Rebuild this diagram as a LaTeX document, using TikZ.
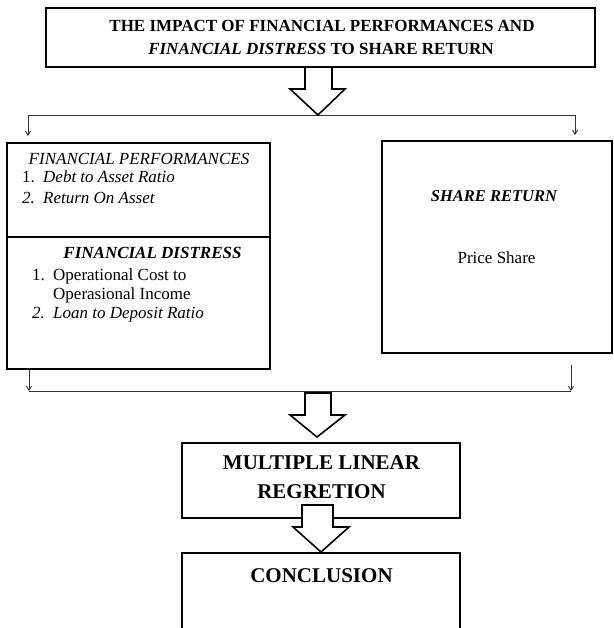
\documentclass[tikz,border=0pt]{standalone}
\usepackage{fontspec}
\setmainfont{Liberation Serif}
\usetikzlibrary{arrows.meta}
\begin{document}
\begin{tikzpicture}[x=1pt,y=-1pt,
  box/.style={draw=black, line width=2pt, inner sep=0pt, outer sep=0pt},
  wire/.style={draw=black!80, line width=0.9pt},
  downtip/.style={-{Straight Barb[length=4pt,width=5pt]}},
  hollow/.style={draw=black, fill=white, line width=1.6pt, line join=miter},
  txt/.style={inner sep=0pt, anchor=base, font=\fontsize{17}{20}\selectfont},
  ltxt/.style={inner sep=0pt, anchor=base west, font=\fontsize{17}{20}\selectfont},
  big/.style={inner sep=0pt, anchor=base, font=\fontsize{21}{24}\selectfont\bfseries},
]
\clip (0,0) rectangle (613,628);
\fill[white] (0,0) rectangle (613,628);

% boxes
\node[box, minimum width=549pt, minimum height=59pt] (title) at (320.5,37.5) {};
\node[box, minimum width=263pt, minimum height=94pt] (fp) at (138.5,190) {};
\node[box, minimum width=263pt, minimum height=132pt] (fd) at (138.5,303) {};
\node[box, minimum width=230pt, minimum height=212pt] (sr) at (497,247) {};
\node[box, minimum width=278pt, minimum height=75pt] (mlr) at (321,480.5) {};
\node[box, minimum width=278pt, minimum height=87pt] (concl) at (321,596.5) {};

% title text
\node[txt, font=\fontsize{17}{20}\selectfont\bfseries] (t1) at (322,32) {THE IMPACT OF FINANCIAL PERFORMANCES AND};
\node[txt, font=\fontsize{17}{20}\selectfont\bfseries] (t2) at (321,55) {\textit{FINANCIAL DISTRESS} TO SHARE RETURN};

% financial performances
\node[txt, font=\fontsize{17}{20}\selectfont\itshape] (fph) at (139,165) {FINANCIAL PERFORMANCES};
\node[ltxt] (fpn1) at (22,183) {1.};
\node[ltxt, font=\fontsize{17}{20}\selectfont\itshape] (fpi1) at (43,183) {Debt to Asset Ratio};
\node[ltxt, font=\fontsize{17}{20}\selectfont\itshape] (fpn2) at (22,204) {2.};
\node[ltxt, font=\fontsize{17}{20}\selectfont\itshape] (fpi2) at (43,204) {Return On Asset};

% financial distress
\node[txt, font=\fontsize{17}{20}\selectfont\bfseries\itshape] (fdh) at (152.5,258) {FINANCIAL DISTRESS};
\node[ltxt] (fdn1) at (32,280) {1.};
\node[ltxt] (fdi1) at (53,280) {Operational Cost to};
\node[ltxt] (fdi1b) at (53,299) {Operasional Income};
\node[ltxt, font=\fontsize{17}{20}\selectfont\itshape] (fdn2) at (32,318) {2.};
\node[ltxt, font=\fontsize{17}{20}\selectfont\itshape] (fdi2) at (53,318) {Loan to Deposit Ratio};

% share return
\node[txt, font=\fontsize{16.5}{20}\selectfont\bfseries\itshape] (srh) at (494,202) {SHARE RETURN};
\node[txt] (srp) at (496.5,263) {Price Share};

% multiple linear regression / conclusion
\node[big] (m1) at (321.5,469) {MULTIPLE LINEAR};
\node[big] (m2) at (321.5,498) {REGRETION};
\node[big] (c1) at (321.5,582) {CONCLUSION};

% thin connectors
\coordinate (la) at (28,115);
\coordinate (ra) at (575,115);
\coordinate (lb) at (29,391);
\coordinate (rb) at (571,391);
\draw[wire] (la) -- (ra);
\draw[wire, downtip, shorten >=7pt] (la) -- (la |- fp.north);
\draw[wire, downtip, shorten >=6pt] (ra) -- (ra |- sr.north);
\draw[wire] (lb) -- (rb);
\draw[wire, downtip] (lb |- fd.south) -- (lb);
\draw[wire, downtip, shorten <=12pt] (rb |- sr.south) -- (rb);

% hollow block arrows
\draw[hollow] (305,67) -- (332,67) -- (332,89) -- (345,89) -- (318,115) -- (290,89) -- (305,89) -- cycle;
\draw[hollow] (305,393) -- (331,393) -- (331,415) -- (345,415) -- (317,437) -- (290,415) -- (305,415) -- cycle;
\draw[hollow] (302,505) -- (333,505) -- (333,527) -- (349,527) -- (321,552) -- (293,527) -- (302,527) -- cycle;
\end{tikzpicture}
\end{document}
